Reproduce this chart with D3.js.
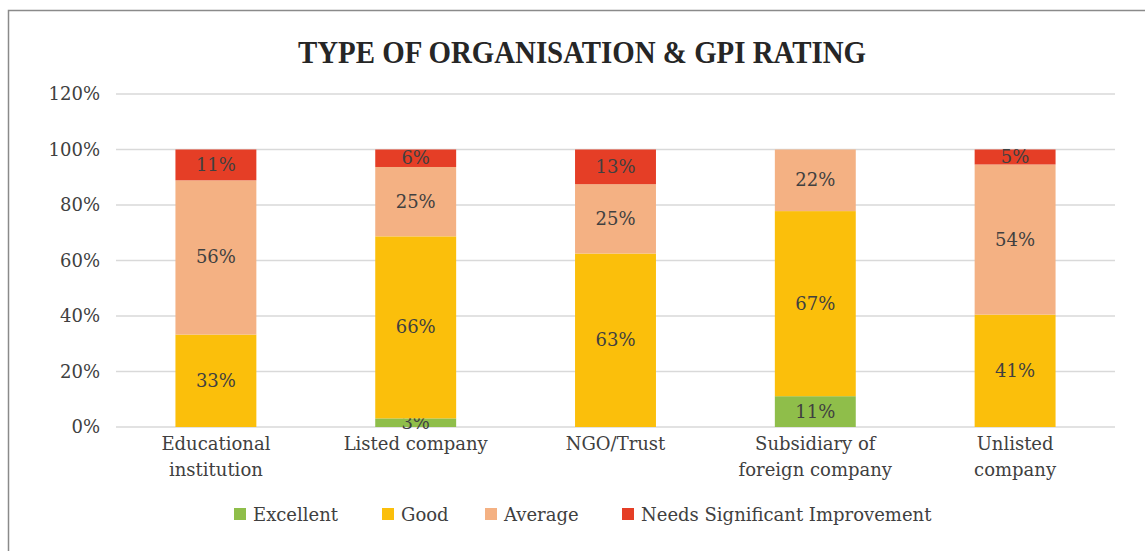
<!DOCTYPE html>
<html>
<head>
<meta charset="utf-8">
<script src="https://cdn.jsdelivr.net/npm/d3@7"></script>
<style>
  body { margin: 0; background: #fff; }
  text { font-family: "DejaVu Serif", "Liberation Serif", serif; fill: #404040; }
</style>
</head>
<body>
<svg id="svg" width="1145" height="551"></svg>
<script>
// categories and ratings
var categories = [["Educational", "institution"], ["Listed company"], ["NGO/Trust"], ["Subsidiary of", "foreign company"], ["Unlisted", "company"]]
var ratings = ["Excellent", "Good", "Average", "Needs Significant Improvement"]
var colors = ["#8fbe4a", "#fbbf0b", "#f4b183", "#e53e26"]

// values in %, one array per rating
var excellent = [0, 3.1, 0, 11.1, 0]
var good = [33.3, 65.6, 62.5, 66.7, 40.5]
var average = [55.6, 25, 25, 22.2, 54.1]
var needsImprovement = [11.1, 6.3, 12.5, 0, 5.4]

var yTicks = [0, 20, 40, 60, 80, 100, 120]

var svg = d3.select("svg")
var width = 1145, height = 551
var margin = {left: 116, right: 30, top: 94, bottom: 124}
var fs = "18px"

// outer border
svg.append("rect")
  .attr("x", 8.5).attr("y", 10.5)
  .attr("width", 1145).attr("height", 545)
  .attr("fill", "none").attr("stroke", "#8a8a8a").attr("stroke-width", 1.5)

svg.append("text")
  .attr("x", 582).attr("y", 63)
  .attr("text-anchor", "middle")
  .attr("textLength", 568).attr("lengthAdjust", "spacingAndGlyphs")
  .style("font-family", "'Liberation Serif', serif")
  .style("font-size", "32px").style("font-weight", "bold").style("fill", "#262626")
  .text("TYPE OF ORGANISATION & GPI RATING")

var x = d3.scaleBand()
  .domain(d3.range(categories.length))
  .range([margin.left, width - margin.right])
  .paddingInner(0.595).paddingOuter(0.2975)

var y = d3.scaleLinear()
  .domain([0, 120])
  .range([height - margin.bottom, margin.top])

// gridlines
svg.append("g").selectAll("line")
  .data(yTicks)
  .enter().append("line")
  .attr("x1", margin.left).attr("x2", width - margin.right)
  .attr("y1", function(d) { return y(d) }).attr("y2", function(d) { return y(d) })
  .attr("stroke", "#d9d9d9").attr("stroke-width", 1.5)

// y axis labels
svg.append("g").selectAll("text")
  .data(yTicks)
  .enter().append("text")
  .attr("x", 100).attr("y", function(d) { return y(d) + 6 })
  .attr("text-anchor", "end")
  .style("font-size", fs)
  .text(function(d) { return d + "%" })

// stack data
var rows = categories.map(function(c, i) {
  return {i: i, r0: excellent[i], r1: good[i], r2: average[i], r3: needsImprovement[i]}
})
var stack = d3.stack().keys(["r0", "r1", "r2", "r3"])(rows)

var layer = svg.append("g").selectAll("g")
  .data(stack)
  .enter().append("g")
  .attr("fill", function(d, k) { return colors[k] })

layer.selectAll("rect")
  .data(function(d) { return d })
  .enter().append("rect")
  .attr("x", function(d) { return x(d.data.i) })
  .attr("width", x.bandwidth())
  .attr("y", function(d) { return y(d[1]) })
  .attr("height", function(d) { return y(d[0]) - y(d[1]) })

// data labels
layer.selectAll("text")
  .data(function(d) { return d.filter(function(p) { return p[1] - p[0] > 0 }) })
  .enter().append("text")
  .attr("x", function(d) { return x(d.data.i) + x.bandwidth() / 2 })
  .attr("y", function(d) { return y((d[0] + d[1]) / 2) + 6 })
  .attr("text-anchor", "middle")
  .style("font-size", fs)
  .text(function(d) { return Math.round(d[1] - d[0]) + "%" })

// category labels
var cat = svg.append("g").selectAll("text")
  .data(categories)
  .enter().append("text")
  .attr("text-anchor", "middle")
  .style("font-size", fs)
cat.selectAll("tspan")
  .data(function(d, i) { return d.map(function(s) { return {s: s, i: i} }) })
  .enter().append("tspan")
  .attr("x", function(d) { return x(d.i) + x.bandwidth() / 2 })
  .attr("y", function(d, j) { return 450 + j * 26 })
  .text(function(d) { return d.s })

// legend
var legendX = [234, 382, 485, 622]
var legend = svg.append("g").selectAll("g")
  .data(ratings)
  .enter().append("g")
  .attr("transform", function(d, k) { return "translate(" + legendX[k] + ",508)" })
legend.append("rect")
  .attr("width", 12).attr("height", 12)
  .attr("y", 0)
  .attr("fill", function(d, k) { return colors[k] })
legend.append("text")
  .attr("x", 19).attr("y", 13)
  .style("font-size", fs)
  .text(function(d) { return d })
</script>
</body>
</html>
